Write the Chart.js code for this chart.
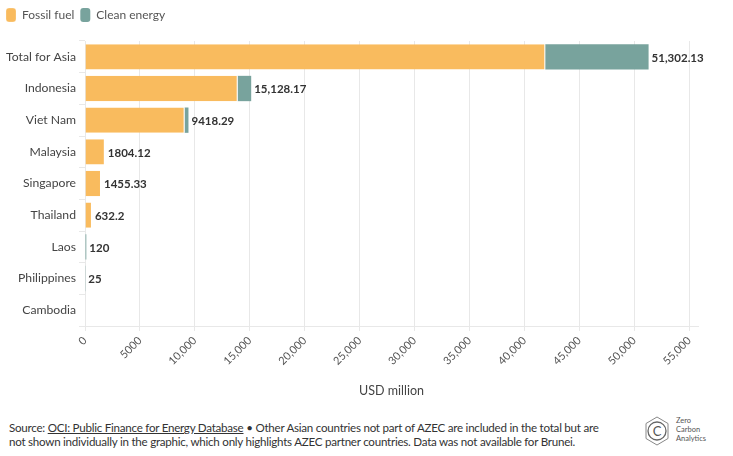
<!DOCTYPE html>
<html>
<head>
<meta charset="utf-8">
<script src="https://cdn.jsdelivr.net/npm/chart.js@4"></script>
<style>
  body { margin: 0; background: #fff; font-family: Lato, sans-serif; }
  #wrap { position: relative; width: 733px; height: 456px; }
  #chart-box { position: absolute; left: 0; top: 0; width: 733px; height: 402px; }
  #notes { position: absolute; left: 9px; top: 421px; width: 598px; font-size: 11.6px; letter-spacing: -0.25px; line-height: 14px; color: #333; }
  #notes a { color: #333; text-decoration: underline; }
  #logo { position: absolute; left: 641px; top: 414px; width: 90px; height: 36px; }
</style>
</head>
<body>
<div id="wrap">
  <div id="chart-box"><canvas id="finance-chart"></canvas></div>
  <div id="notes">Source: <a>OCI: Public Finance for Energy Database</a> • Other Asian countries not part of AZEC are included in the total but are not shown individually in the graphic, which only highlights AZEC partner countries. Data was not available for Brunei.</div>
  <svg id="logo" viewBox="0 0 90 36">
    <polygon points="16,3 27,9.5 27,24.5 16,31 5,24.5 5,9.5" fill="none" stroke="#888" stroke-width="1"/>
    <circle cx="16" cy="17" r="9" fill="none" stroke="#666" stroke-width="1.3"/>
    <text x="16" y="21.5" text-anchor="middle" font-size="13" fill="#555" font-family="Lato">C</text>
    <text x="35" y="9" font-size="7.5" fill="#555" font-family="Lato">Zero</text>
    <text x="35" y="18" font-size="7.5" fill="#555" font-family="Lato">Carbon</text>
    <text x="35" y="27" font-size="7.5" fill="#555" font-family="Lato">Analytics</text>
  </svg>
</div>
<script>
const countries = ['Total for Asia', 'Indonesia', 'Viet Nam', 'Malaysia', 'Singapore', 'Thailand', 'Laos', 'Philippines', 'Cambodia'];
const fossilFuel = [41900, 13900, 9070, 1804.12, 1455.33, 632.2, 0, 0, 0];
const cleanEnergy = [9402.13, 1228.17, 348.29, 0, 0, 0, 120, 25, 0];
const totalLabels = ['51,302.13', '15,128.17', '9418.29', '1804.12', '1455.33', '632.2', '120', '25', ''];
const tickValues = [0, 5000, 10000, 15000, 20000, 25000, 30000, 35000, 40000, 45000, 50000, 55000];
const tickLabels = ['0', '5000', '10,000', '15,000', '20,000', '25,000', '30,000', '35,000', '40,000', '45,000', '50,000', '55,000'];

// totals printed after the end of each stacked bar
const totalsPlugin = {
  id: 'totals',
  afterDatasetsDraw(chart) {
    const ctx = chart.ctx;
    const x = chart.scales.x;
    const y = chart.scales.y;
    ctx.save();
    ctx.font = 'bold 11.5px Lato';
    ctx.fillStyle = '#333';
    ctx.textBaseline = 'middle';
    countries.forEach((c, i) => {
      if (!totalLabels[i]) return;
      const end = x.getPixelForValue(fossilFuel[i] + cleanEnergy[i]);
      ctx.fillText(totalLabels[i], end + 3, y.getPixelForValue(i) + 1);
    });
    ctx.restore();
  }
};

// extra room under the legend
const legendGap = {
  id: 'legendGap',
  beforeInit(chart) {
    const fit = chart.legend.fit;
    chart.legend.fit = function () {
      fit.bind(chart.legend)();
      this.height += 9;
    };
  }
};

const ctx = document.getElementById('finance-chart').getContext('2d');
new Chart(ctx, {
  type: 'bar',
  data: {
    labels: countries,
    datasets: [{
      label: 'Fossil fuel',
      data: fossilFuel,
      backgroundColor: '#f9bb5e',
      borderColor: '#ffffff',
      borderWidth: { right: 1 },
      borderSkipped: false
    }, {
      label: 'Clean energy',
      data: cleanEnergy,
      backgroundColor: '#78a39d',
      borderWidth: 0
    }]
  },
  options: {
    indexAxis: 'y',
    responsive: true,
    maintainAspectRatio: false,
    animation: false,
    layout: { padding: { left: 0, right: 35, top: 2, bottom: 0 } },
    datasets: { bar: { barPercentage: 0.8, categoryPercentage: 1 } },
    scales: {
      x: {
        stacked: true,
        min: 0,
        max: 55800,
        afterBuildTicks(scale) { scale.ticks = tickValues.map(v => ({ value: v })); },
        afterFit(scale) { scale.height = 76; },
        grid: { color: '#e8e8e8', tickLength: 5 },
        border: { color: '#e8e8e8' },
        ticks: {
          minRotation: 45, maxRotation: 45,
          color: '#555',
          font: { family: 'Lato', size: 11 },
          callback: (v, i) => tickLabels[i]
        },
        title: {
          display: true, text: 'USD million', color: '#444',
          font: { family: 'Lato', size: 12.5 }, padding: { top: 2 }
        }
      },
      y: {
        stacked: true,
        afterFit(scale) { scale.width = 85; },
        grid: { drawOnChartArea: false, color: '#e8e8e8', tickLength: 6 },
        border: { display: false },
        ticks: { color: '#444', padding: 3, font: { family: 'Lato', size: 12.2 } }
      }
    },
    plugins: {
      legend: {
        position: 'top',
        align: 'start',
        labels: {
          boxWidth: 10, boxHeight: 14,
          useBorderRadius: true, borderRadius: 3,
          color: '#555', padding: 6,
          font: { family: 'Lato', size: 12 }
        }
      },
      tooltip: { enabled: true }
    }
  },
  plugins: [totalsPlugin, legendGap]
});
</script>
</body>
</html>
